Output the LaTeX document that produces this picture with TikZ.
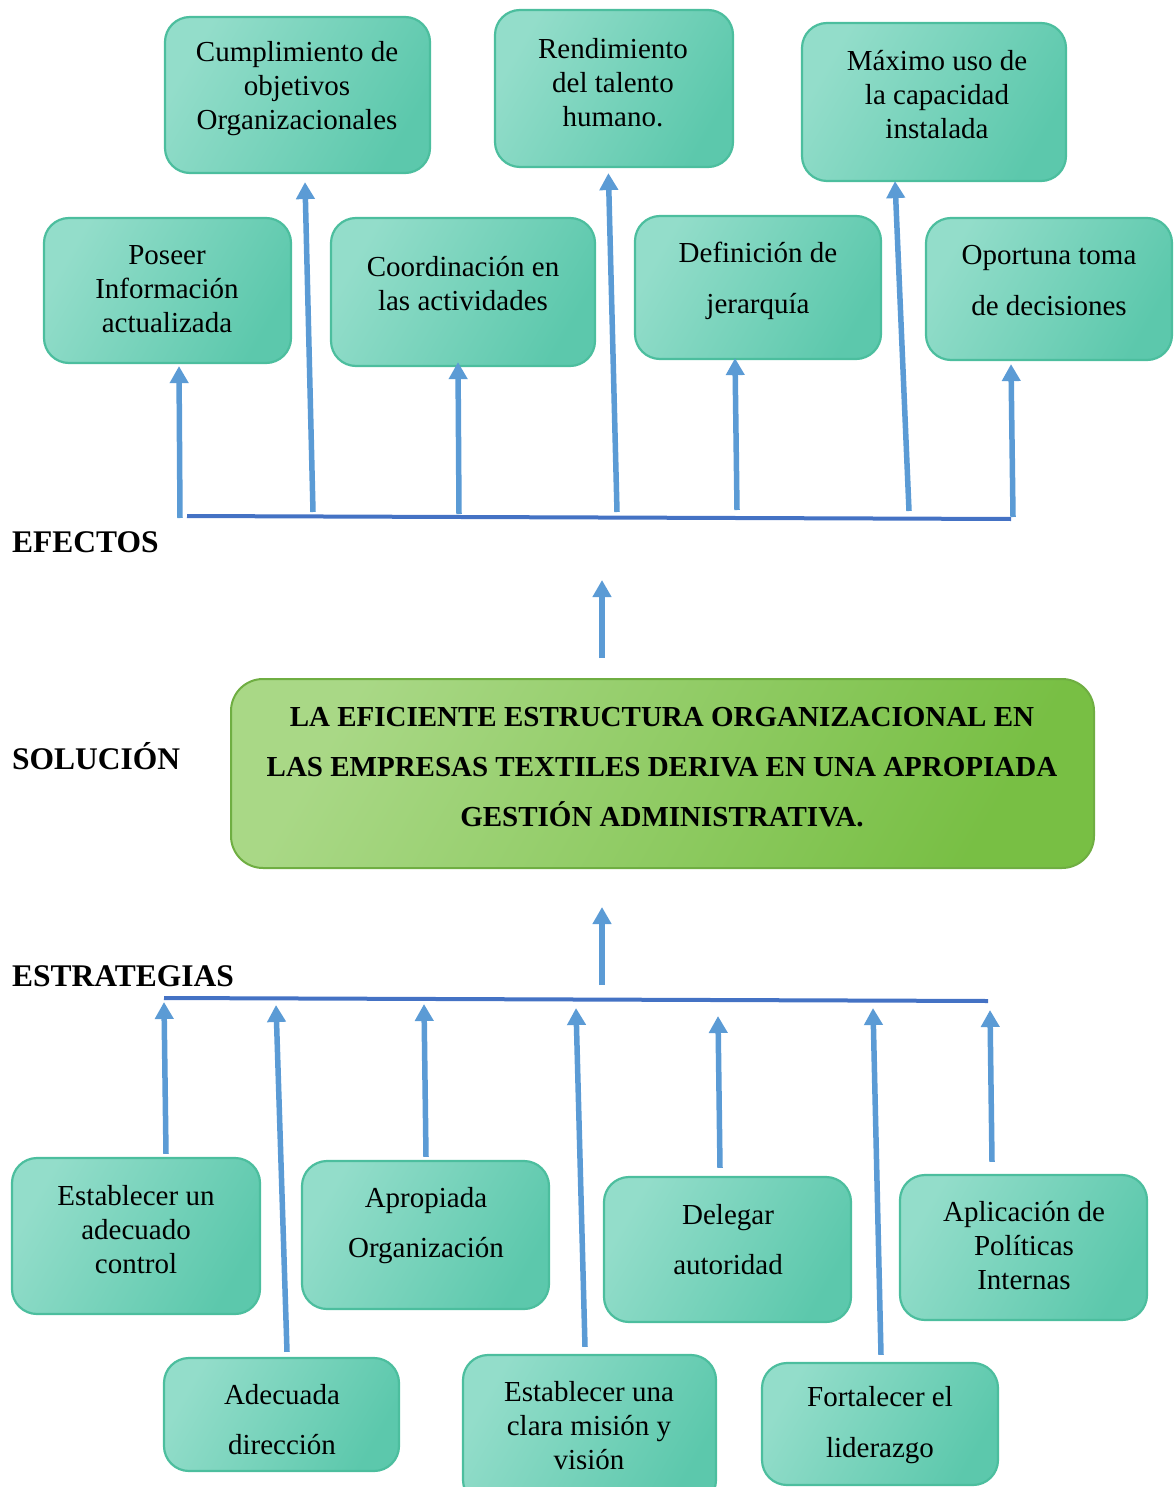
\documentclass[tikz,border=0pt]{standalone}
\usepackage{fontspec}
\setmainfont{Liberation Serif}
\usetikzlibrary{arrows.meta,calc}
\definecolor{tealL}{HTML}{93DDCA}
\definecolor{tealD}{HTML}{5CC8AC}
\definecolor{tealB}{HTML}{4CBE9E}
\definecolor{grnL}{HTML}{A9D886}
\definecolor{grnD}{HTML}{78BF44}
\definecolor{grnB}{HTML}{6FAE42}
\definecolor{arrC}{HTML}{5B9BD5}
\definecolor{lineC}{HTML}{4472C4}
\begin{document}
\begin{tikzpicture}[x=1pt,y=-1pt,
  ebox/.style={draw=tealB, line width=2.2pt, rounded corners=25pt,
    left color=tealL, right color=tealD, shading angle=60, inner sep=0pt},
  solbox/.style={draw=grnB, line width=2pt, rounded corners=32pt,
    left color=grnL, right color=grnD, shading angle=60, inner sep=0pt},
  txt/.style={align=center, inner sep=0pt, font=\fontsize{29}{34}\selectfont},
  txtw/.style={align=center, inner sep=0pt, font=\fontsize{29}{50.5}\selectfont},
  soltxt/.style={align=center, inner sep=0pt, font=\bfseries\fontsize{29}{50}\selectfont},
  lbl/.style={anchor=base west, inner sep=0pt, font=\bfseries\fontsize{31.5}{36}\selectfont},
  arr/.style={draw=arrC, line width=5.5pt, -{Triangle[width=18pt,length=17pt]}},
  hline/.style={draw=lineC, line width=4pt}
]
\useasboundingbox (0,0) rectangle (1173,1487);
\clip (0,0) rectangle (1173,1487);

% ---------- top boxes (effects) ----------
\node[ebox, minimum width=265pt, minimum height=156pt] (b1) at (297.5,95) {};
\node[txt] (b1t) at (297,89) {Cumplimiento de\\objetivos\\Organizacionales};
\node[ebox, minimum width=238pt, minimum height=157pt] (b2) at (614,88.5) {};
\node[txt] (b2t) at (613,82.5) {Rendimiento\\del talento\\humano.};
\node[ebox, minimum width=264pt, minimum height=158pt] (b3) at (934,102) {};
\node[txt] (b3t) at (937,95) {Máximo uso de\\la capacidad\\instalada};

\node[ebox, minimum width=247pt, minimum height=145pt] (c1) at (167.5,290.5) {};
\node[txt] (c1t) at (167,289) {Poseer\\Información\\actualizada};
\node[ebox, minimum width=264pt, minimum height=148pt] (c2) at (463,292) {};
\node[txt] (c2t) at (463,284) {Coordinación en\\las actividades};
\node[ebox, minimum width=246pt, minimum height=143pt] (c3) at (758,287.5) {};
\node[txtw] (c3t) at (758,281) {Definición de\\jerarquía};
\node[ebox, minimum width=246pt, minimum height=142pt] (c4) at (1049,289) {};
\node[txtw] (c4t) at (1049,280.5) {Oportuna toma\\de decisiones};

% ---------- top connector line ----------
\coordinate (L1) at (187,516);
\coordinate (L2) at (1011,519);
\draw[hline] (L1) -- (L2);
\coordinate (t1) at (180,518);
\coordinate (t2) at (313,512);
\coordinate (t3) at (459,514);
\coordinate (t4) at (617,512);
\coordinate (t5) at (737,510);
\coordinate (t6) at (909,511);
\coordinate (t7) at (1013,517);
\draw[arr] (t1) -- ($(c1.south)+(11.5,2)$);
\draw[arr] (t2) -- ($(b1.south)+(7.5,8)$);
\draw[arr] (t3) -- ($(c2.south)+(-5,-5)$);
\draw[arr] (t4) -- ($(b2.south)+(-5.6,5)$);
\draw[arr] (t5) -- ($(c3.south)+(-23,-2)$);
\draw[arr] (t6) -- ($(b3.south)+(-39,-1)$);
\draw[arr] (t7) -- ($(c4.south)+(-38,3)$);

% ---------- labels ----------
\node[lbl] (efectos) at (12,552) {EFECTOS};
\node[lbl] (solucion) at (12,769) {SOLUCIÓN};
\node[lbl] (estrategias) at (12,986) {ESTRATEGIAS};

% ---------- solution ----------
\node[solbox, minimum width=863pt, minimum height=189pt] (sol) at (662.5,773.5) {};
\node[soltxt] (solt) at (662,767) {LA EFICIENTE ESTRUCTURA ORGANIZACIONAL EN\\LAS EMPRESAS TEXTILES DERIVA EN UNA APROPIADA\\GESTIÓN ADMINISTRATIVA.};
\coordinate (m1) at (602,658);
\coordinate (m2) at (602,580);
\draw[arr] (m1) -- (m2);
\coordinate (m3) at (602,985);
\coordinate (m4) at (602,907);
\draw[arr] (m3) -- (m4);

% ---------- bottom boxes (strategies) ----------
\node[ebox, minimum width=248pt, minimum height=156pt] (e1) at (136,1236) {};
\node[txt] (e1t) at (136,1230) {Establecer un\\adecuado\\control};
\node[ebox, minimum width=247pt, minimum height=148pt] (e2) at (425.5,1235) {};
\node[txtw] (e2t) at (426,1225.5) {Apropiada\\Organización};
\node[ebox, minimum width=247pt, minimum height=145pt] (e3) at (727.5,1249.5) {};
\node[txtw] (e3t) at (728,1239.5) {Delegar\\autoridad};
\node[ebox, minimum width=247pt, minimum height=145pt] (e4) at (1023.5,1247.5) {};
\node[txt] (e4t) at (1024,1245.5) {Aplicación de\\Políticas\\Internas};

\node[ebox, minimum width=235pt, minimum height=113pt] (f1) at (281.5,1414.5) {};
\node[txtw] (f1t) at (282,1419.5) {Adecuada\\dirección};
\node[ebox, minimum width=253pt, minimum height=150pt] (f2) at (589.5,1430) {};
\node[txt] (f2t) at (589,1425.5) {Establecer una\\clara misión y\\visión};
\node[ebox, minimum width=236pt, minimum height=122pt] (f3) at (880,1424) {};
\node[txtw] (f3t) at (880,1425) {Fortalecer el\\liderazgo};

% ---------- bottom connector line ----------
\coordinate (L3) at (164,998);
\coordinate (L4) at (988,1001);
\draw[hline] (L3) -- (L4);
\coordinate (s1) at (164,1002);
\coordinate (s2) at (276,1005);
\coordinate (s3) at (424,1004);
\coordinate (s4) at (576,1008);
\coordinate (s5) at (718,1016);
\coordinate (s6) at (873,1008);
\coordinate (s7) at (990,1010);
\draw[arr] ($(e1.north)+(30,-3)$) -- (s1);
\draw[arr] ($(f1.north)+(5.5,-5)$) -- (s2);
\draw[arr] ($(e2.north)+(0.5,-3)$) -- (s3);
\draw[arr] ($(f2.north)+(-4.5,-7)$) -- (s4);
\draw[arr] ($(e3.north)+(-7.5,-8)$) -- (s5);
\draw[arr] ($(f3.north)+(1,-7)$) -- (s6);
\draw[arr] ($(e4.north)+(-31.5,-12)$) -- (s7);
\end{tikzpicture}
\end{document}
